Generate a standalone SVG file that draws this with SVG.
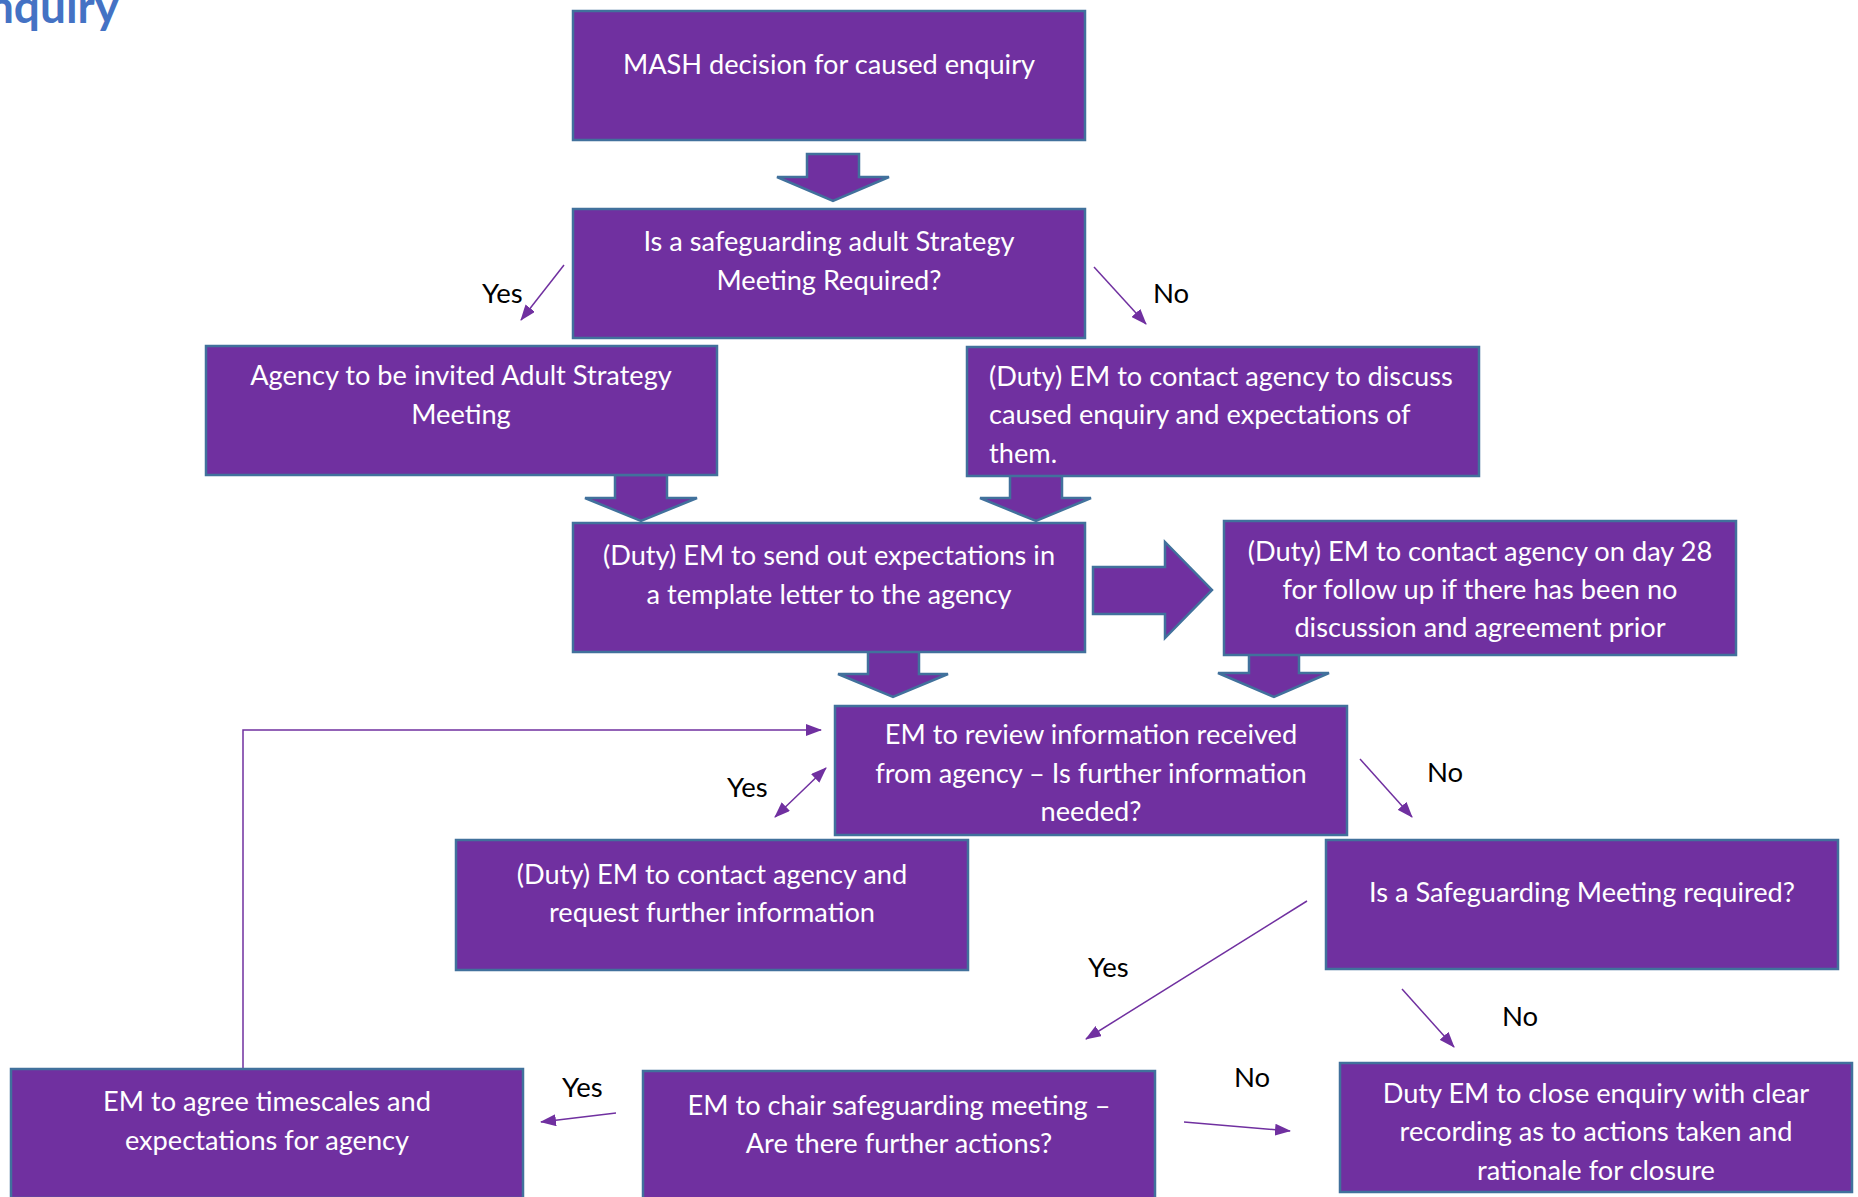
<svg xmlns="http://www.w3.org/2000/svg" width="1858" height="1197" viewBox="0 0 1858 1197">
<defs>
<style>
.box{fill:#7030A0;stroke:#41719C;stroke-width:2.5}
.blk{fill:#7030A0;stroke:#41719C;stroke-width:2.5;stroke-linejoin:miter}
.t{font-family:Lato,"Liberation Sans",sans-serif;font-size:27.2px;fill:#FFFFFF}
.c{text-anchor:middle}
.lbl{font-family:Lato,"Liberation Sans",sans-serif;font-size:27.5px;fill:#000000}
.ln{fill:none;stroke:#7030A0;stroke-width:1.5}
.title{font-family:Lato,"Liberation Sans",sans-serif;font-size:46px;font-weight:bold;fill:#4472C4}
</style>
<marker id="ah" viewBox="0 0 16 12" refX="15" refY="6" markerWidth="16" markerHeight="12" markerUnits="userSpaceOnUse" orient="auto-start-reverse">
<path d="M0,0 L16,6 L0,12 z" fill="#7030A0"/>
</marker>
</defs>
<rect width="1858" height="1197" fill="#FFFFFF"/>
<text class="title" x="119" y="23" text-anchor="end">nquiry</text>

<g id="connectors">
<polygon class="blk" points="807,154 859,154 859,177 889,177 833,201 777,177 807,177"/>
<polygon class="blk" points="615,475 667,475 667,498 697,498 641,521 585,498 615,498"/>
<polygon class="blk" points="1010,475 1062,475 1062,498 1091,498 1036,521 980,498 1010,498"/>
<polygon class="blk" points="868,651 919,651 919,674 948,674 893,697 838,674 868,674"/>
<polygon class="blk" points="1249,651 1299,651 1299,673 1329,673 1274,697 1218,673 1249,673"/>
<polygon class="blk" points="1093,567 1165,567 1165,542 1212,590 1165,638 1165,614 1093,614"/>
<line class="ln" x1="564" y1="265" x2="521" y2="320" marker-end="url(#ah)"/>
<line class="ln" x1="1094" y1="267" x2="1146" y2="324" marker-end="url(#ah)"/>
<line class="ln" x1="826" y1="768" x2="775" y2="817" marker-start="url(#ah)" marker-end="url(#ah)"/>
<line class="ln" x1="1360" y1="759" x2="1412" y2="817" marker-end="url(#ah)"/>
<line class="ln" x1="1307" y1="901" x2="1086" y2="1039" marker-end="url(#ah)"/>
<line class="ln" x1="1402" y1="989" x2="1454" y2="1047" marker-end="url(#ah)"/>
<line class="ln" x1="616" y1="1113" x2="541" y2="1122" marker-end="url(#ah)"/>
<line class="ln" x1="1184" y1="1122" x2="1290" y2="1131" marker-end="url(#ah)"/>
<polyline class="ln" points="243,1068 243,730 821,730" marker-end="url(#ah)"/>
<text class="lbl" x="482" y="303">Yes</text>
<text class="lbl" x="1153" y="303">No</text>
<text class="lbl" x="727" y="797">Yes</text>
<text class="lbl" x="1427" y="782">No</text>
<text class="lbl" x="1088" y="977">Yes</text>
<text class="lbl" x="1502" y="1026">No</text>
<text class="lbl" x="562" y="1097">Yes</text>
<text class="lbl" x="1234" y="1087">No</text>
</g>

<g id="n1">
<rect class="box" x="573" y="11" width="512" height="129"/>
<text class="t c" x="829" y="74">MASH decision for caused enquiry</text>
</g>
<g id="n2">
<rect class="box" x="573" y="209" width="512" height="129"/>
<text class="t c" x="829" y="251">Is a safeguarding adult Strategy</text>
<text class="t c" x="829" y="290">Meeting Required?</text>
</g>
<g id="n3">
<rect class="box" x="206" y="346" width="511" height="129"/>
<text class="t c" x="461" y="385">Agency to be invited Adult Strategy</text>
<text class="t c" x="461" y="424">Meeting</text>
</g>
<g id="n4">
<rect class="box" x="967" y="347" width="512" height="129"/>
<text class="t" x="989" y="386">(Duty) EM to contact agency to discuss</text>
<text class="t" x="989" y="424">caused enquiry and expectations of</text>
<text class="t" x="989" y="463">them.</text>
</g>
<g id="n5">
<rect class="box" x="573" y="523" width="512" height="129"/>
<text class="t c" x="829" y="565">(Duty) EM to send out expectations in</text>
<text class="t c" x="829" y="604">a template letter to the agency</text>
</g>
<g id="n6">
<rect class="box" x="1224" y="521" width="512" height="134"/>
<text class="t c" x="1480" y="561">(Duty) EM to contact agency on day 28</text>
<text class="t c" x="1480" y="599">for follow up if there has been no</text>
<text class="t c" x="1480" y="637">discussion and agreement prior</text>
</g>
<g id="n7">
<rect class="box" x="835" y="706" width="512" height="129"/>
<text class="t c" x="1091" y="744">EM to review information received</text>
<text class="t c" x="1091" y="783">from agency – Is further information</text>
<text class="t c" x="1091" y="821">needed?</text>
</g>
<g id="n8">
<rect class="box" x="456" y="840" width="512" height="130"/>
<text class="t c" x="712" y="884">(Duty) EM to contact agency and</text>
<text class="t c" x="712" y="922">request further information</text>
</g>
<g id="n9">
<rect class="box" x="1326" y="840" width="512" height="129"/>
<text class="t c" x="1582" y="902">Is a Safeguarding Meeting required?</text>
</g>
<g id="n10">
<rect class="box" x="11" y="1069" width="512" height="129"/>
<text class="t c" x="267" y="1111">EM to agree timescales and</text>
<text class="t c" x="267" y="1150">expectations for agency</text>
</g>
<g id="n11">
<rect class="box" x="643" y="1071" width="512" height="129"/>
<text class="t c" x="899" y="1115">EM to chair safeguarding meeting –</text>
<text class="t c" x="899" y="1153">Are there further actions?</text>
</g>
<g id="n12">
<rect class="box" x="1340" y="1063" width="512" height="129"/>
<text class="t c" x="1596" y="1103">Duty EM to close enquiry with clear</text>
<text class="t c" x="1596" y="1141">recording as to actions taken and</text>
<text class="t c" x="1596" y="1180">rationale for closure</text>
</g>
</svg>
